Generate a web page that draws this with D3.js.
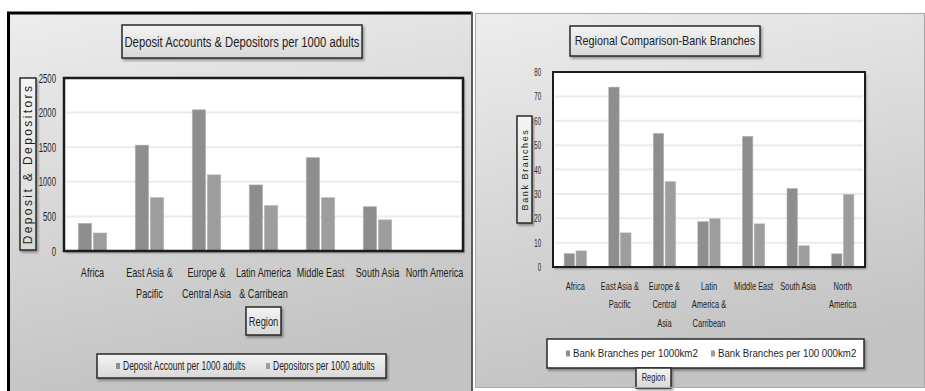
<!DOCTYPE html>
<html>
<head>
<meta charset="utf-8">
<script src="https://cdnjs.cloudflare.com/ajax/libs/d3/7.8.5/d3.min.js"></script>
<style>
  html, body { margin: 0; padding: 0; background: #ffffff; }
  svg { display: block; }
  text { font-family: "Liberation Sans", Arial, sans-serif; fill: #1e1e1e; }
</style>
</head>
<body>
<svg id="chart" width="925" height="391"></svg>
<script>
// ---- Deposit accounts & depositors per 1000 adults ----
const depositRegions = ["Africa", "East Asia & Pacific", "Europe & Central Asia", "Latin America & Carribean", "Middle East", "South Asia", "North America"];
const depositRegionLabels = [["Africa"], ["East Asia &", "Pacific"], ["Europe &", "Central Asia"], ["Latin America", "& Carribean"], ["Middle East"], ["South Asia"], ["North America"]];
const depositAccounts = [400, 1530, 2040, 955, 1350, 640, 0];
const depositors = [260, 770, 1100, 655, 770, 450, 0];
const depositTicks = [0, 500, 1000, 1500, 2000, 2500];
const depositSeries = ["Deposit Account per 1000 adults", "Depositors per 1000 adults"];

// ---- Regional comparison of bank branches ----
const branchRegions = ["Africa", "East Asia & Pacific", "Europe & Central Asia", "Latin America & Carribean", "Middle East", "South Asia", "North America"];
const branchRegionLabels = [["Africa"], ["East Asia &", "Pacific"], ["Europe &", "Central", "Asia"], ["Latin", "America &", "Carribean"], ["Middle East"], ["South Asia"], ["North", "America"]];
const branchesPerArea = [5.5, 73.8, 54.8, 18.6, 53.6, 32.2, 5.4];
const branchesPerAdults = [6.6, 14.0, 35.0, 19.8, 17.7, 8.7, 29.7];
const branchTicks = [0, 10, 20, 30, 40, 50, 60, 70, 80];
const branchSeries = ["Bank Branches per 1000km2", "Bank Branches per 100 000km2"];

const barColors = ["#8e8e8e", "#9d9d9d"];

const svg = d3.select("#chart");
const defs = svg.append("defs");

const bgGrad = defs.append("linearGradient").attr("id", "panelBg").attr("x1", 0).attr("y1", 0).attr("x2", 0.25).attr("y2", 1);
bgGrad.append("stop").attr("offset", "0%").attr("stop-color", "#ededed");
bgGrad.append("stop").attr("offset", "100%").attr("stop-color", "#c3c3c3");

const boxGrad = defs.append("linearGradient").attr("id", "boxBg").attr("x1", 0).attr("y1", 0).attr("x2", 0).attr("y2", 1);
boxGrad.append("stop").attr("offset", "0%").attr("stop-color", "#f4f4f4");
boxGrad.append("stop").attr("offset", "100%").attr("stop-color", "#d8d8d8");

const shadow = defs.append("filter").attr("id", "shadow").attr("x", "-10%").attr("y", "-10%").attr("width", "130%").attr("height", "140%");
shadow.append("feDropShadow").attr("dx", 1.5).attr("dy", 2).attr("stdDeviation", 1.2).attr("flood-color", "#000").attr("flood-opacity", 0.35);

// Boxed label (title, axis titles); text is horizontally condensed by sx
function labelBox(g, x, y, w, h, text, opts = {}) {
  const b = g.append("g");
  b.append("rect").attr("x", x).attr("y", y).attr("width", w).attr("height", h)
    .attr("fill", opts.fill || "url(#boxBg)").attr("stroke", "#2a2a2a").attr("stroke-width", 1.5)
    .attr("filter", "url(#shadow)");
  const cx = x + w / 2, cy = y + h / 2;
  const sx = opts.sx || 1;
  b.append("text")
    .attr("transform", opts.rotate
      ? `translate(${cx},${cy}) rotate(-90) scale(${sx},1)`
      : `translate(${cx},${cy}) scale(${sx},1)`)
    .attr("text-anchor", "middle").attr("dominant-baseline", "central")
    .attr("font-size", opts.size || 12)
    .attr("letter-spacing", opts.spacing || 0)
    .text(text);
  return b;
}

function drawPanel(cfg) {
  const g = svg.append("g");

  // panel background
  g.append("rect").attr("x", cfg.panel.x).attr("y", cfg.panel.y)
    .attr("width", cfg.panel.w).attr("height", cfg.panel.h).attr("fill", "url(#panelBg)");

  const x0 = d3.scaleBand().domain(cfg.categories).range([cfg.plot.x0, cfg.plot.x1])
    .paddingInner(0.5).paddingOuter(0.25);
  const x1 = d3.scaleBand().domain([0, 1]).range([0, x0.bandwidth()]).paddingInner(0.12);
  const y = d3.scaleLinear().domain([0, cfg.ticks[cfg.ticks.length - 1]]).range([cfg.plot.y1, cfg.plot.y0]);

  // plot area
  g.append("rect").attr("x", cfg.plot.x0).attr("y", cfg.plot.y0)
    .attr("width", cfg.plot.x1 - cfg.plot.x0).attr("height", cfg.plot.y1 - cfg.plot.y0)
    .attr("fill", "#ffffff").attr("filter", "url(#shadow)");

  // gridlines
  g.append("g").selectAll("line").data(cfg.ticks.slice(1, -1)).join("line")
    .attr("x1", cfg.plot.x0 + 2).attr("x2", cfg.plot.x1 - 2)
    .attr("y1", d => y(d)).attr("y2", d => y(d))
    .attr("stroke", "#ebebeb").attr("stroke-width", 2);

  // bars
  const rows = cfg.categories.map((c, i) => ({ c, v: [cfg.series[0][i], cfg.series[1][i]] }));
  const grp = g.append("g").selectAll("g").data(rows).join("g")
    .attr("transform", d => `translate(${x0(d.c)},0)`);
  grp.selectAll("rect").data(d => d.v.map((v, k) => ({ v, k }))).join("rect")
    .attr("x", d => x1(d.k)).attr("width", x1.bandwidth())
    .attr("y", d => y(d.v)).attr("height", d => y(0) - y(d.v))
    .attr("fill", d => barColors[d.k])
    .attr("stroke", "#b4b4b4").attr("stroke-width", 0.6)
    .style("display", d => d.v > 0 ? null : "none");

  // plot frame
  g.append("rect").attr("x", cfg.plot.x0).attr("y", cfg.plot.y0)
    .attr("width", cfg.plot.x1 - cfg.plot.x0).attr("height", cfg.plot.y1 - cfg.plot.y0)
    .attr("fill", "none").attr("stroke", "#1c1c1c").attr("stroke-width", cfg.frameWidth);

  // y axis
  const yAxis = g.append("g").attr("transform", `translate(${cfg.plot.x0 - cfg.tickGap},0)`)
    .call(d3.axisLeft(y).tickValues(cfg.ticks).tickFormat(d3.format("d")).tickSize(0).tickPadding(0));
  yAxis.select(".domain").remove();
  yAxis.selectAll("text").attr("x", 0).attr("font-size", cfg.tickSize).attr("fill", "#1e1e1e")
    .attr("transform", `scale(${cfg.tickSx},1)`);

  // x axis with wrapped, condensed labels
  const xAxis = g.append("g").attr("transform", `translate(0,${cfg.plot.y1})`)
    .call(d3.axisBottom(x0).tickSize(0).tickFormat(""));
  xAxis.select(".domain").remove();
  xAxis.selectAll(".tick").each(function (d, i) {
    const t = d3.select(this).append("text").attr("text-anchor", "middle")
      .attr("fill", "#1e1e1e").attr("font-size", cfg.labelSize)
      .attr("transform", `scale(${cfg.labelSx},1)`);
    cfg.labels[i].forEach((line, j) => {
      t.append("tspan").attr("x", 0).attr("y", cfg.labelY + j * cfg.labelGap).text(line);
    });
  });

  // title, axis titles
  labelBox(g, cfg.title.x, cfg.title.y, cfg.title.w, cfg.title.h, cfg.title.text, { size: cfg.title.size, sx: cfg.title.sx });
  labelBox(g, cfg.yTitle.x, cfg.yTitle.y, cfg.yTitle.w, cfg.yTitle.h, cfg.yTitle.text,
    { rotate: true, size: cfg.yTitle.size, spacing: cfg.yTitle.spacing, sx: cfg.yTitle.sx });

  // legend
  const L = cfg.legend;
  g.append("rect").attr("x", L.x).attr("y", L.y).attr("width", L.w).attr("height", L.h)
    .attr("fill", L.fill).attr("stroke", "#2a2a2a").attr("stroke-width", 1.5).attr("filter", "url(#shadow)");
  cfg.seriesNames.forEach((name, k) => {
    const lx = L.items[k];
    g.append("rect").attr("x", lx).attr("y", L.y + L.h / 2 - 3).attr("width", 4).attr("height", 6).attr("fill", barColors[k]);
    g.append("text").attr("transform", `translate(${lx + 7},${L.y + L.h / 2}) scale(${L.sx},1)`)
      .attr("dominant-baseline", "central").attr("font-size", L.size).text(name);
  });

  labelBox(g, cfg.xTitle.x, cfg.xTitle.y, cfg.xTitle.w, cfg.xTitle.h, "Region", { size: cfg.xTitle.size, sx: cfg.xTitle.sx });
}

// left panel
drawPanel({
  panel: { x: 8, y: 12, w: 464, h: 379 },
  plot: { x0: 64, x1: 463, y0: 78, y1: 251 },
  frameWidth: 2.5,
  categories: depositRegions, labels: depositRegionLabels,
  series: [depositAccounts, depositors], seriesNames: depositSeries,
  ticks: depositTicks, tickSize: 13, tickSx: 0.6, tickGap: 8,
  labelY: 26, labelGap: 21, labelSize: 13, labelSx: 0.7,
  title: { x: 122, y: 25, w: 240, h: 33, text: "Deposit Accounts & Depositors per 1000 adults", size: 15, sx: 0.75 },
  yTitle: { x: 20, y: 78, w: 16, h: 172, text: "Deposit & Depositors", size: 12, spacing: 2.4, sx: 1 },
  xTitle: { x: 246, y: 307, w: 35, h: 28, size: 13, sx: 0.72 },
  legend: { x: 97, y: 354, w: 289, h: 24, fill: "url(#boxBg)", items: [116, 266], size: 12, sx: 0.71 }
});

// right panel
drawPanel({
  panel: { x: 475, y: 13, w: 450, h: 375 },
  plot: { x0: 553, x1: 865, y0: 72, y1: 267 },
  frameWidth: 2,
  categories: branchRegions, labels: branchRegionLabels,
  series: [branchesPerArea, branchesPerAdults], seriesNames: branchSeries,
  ticks: branchTicks, tickSize: 11, tickSx: 0.55, tickGap: 12,
  labelY: 23, labelGap: 18.5, labelSize: 11, labelSx: 0.68,
  title: { x: 570, y: 26, w: 190, h: 30, text: "Regional Comparison-Bank Branches", size: 12, sx: 0.9 },
  yTitle: { x: 517, y: 116, w: 15, h: 107, text: "Bank Branches", size: 9, spacing: 1.6, sx: 1 },
  xTitle: { x: 636, y: 368, w: 35, h: 20, size: 10, sx: 0.75 },
  legend: { x: 547, y: 339, w: 317, h: 29, fill: "#ffffff", items: [566, 711], size: 11, sx: 0.88 }
});

// panel frames
svg.append("line").attr("x1", 7).attr("x2", 472).attr("y1", 13).attr("y2", 13).attr("stroke", "#000").attr("stroke-width", 3);
svg.append("line").attr("x1", 8.5).attr("x2", 8.5).attr("y1", 12).attr("y2", 391).attr("stroke", "#000").attr("stroke-width", 3);
svg.append("line").attr("x1", 472).attr("x2", 472).attr("y1", 12).attr("y2", 391).attr("stroke", "#5a5a5a").attr("stroke-width", 2);
svg.append("rect").attr("x", 475.5).attr("y", 13.5).attr("width", 449).attr("height", 374)
  .attr("fill", "none").attr("stroke", "#a8a8a8").attr("stroke-width", 1);
</script>
</body>
</html>
